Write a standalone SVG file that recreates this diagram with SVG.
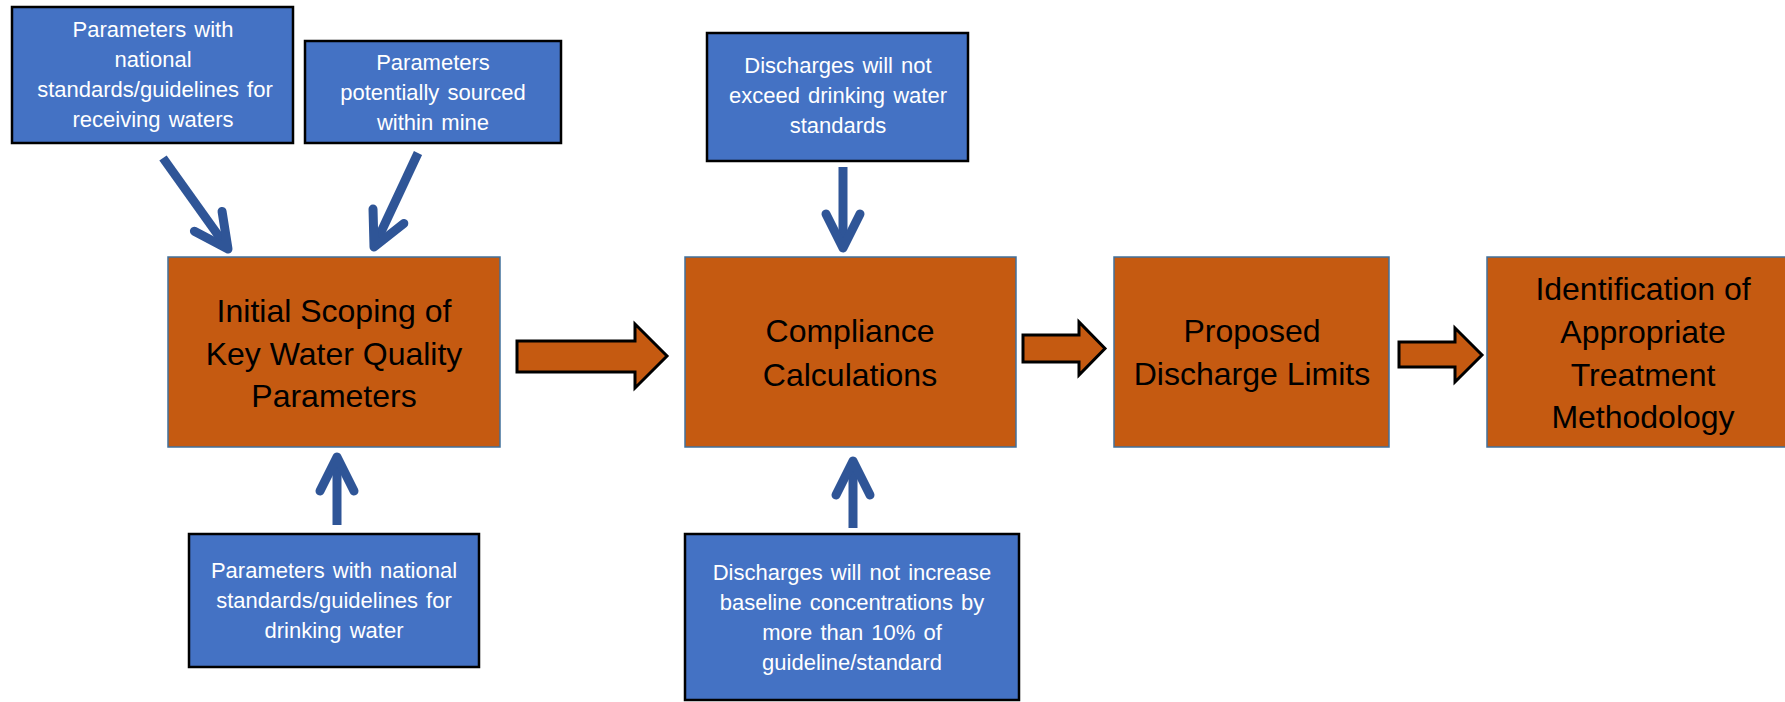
<svg xmlns="http://www.w3.org/2000/svg" width="1785" height="702" viewBox="0 0 1785 702">
<style>
.blue{fill:#4472C4;stroke:#000;stroke-width:2.5}
.orange{fill:#C55A11;stroke:#41719C;stroke-width:1.5}
.bt{font-family:"Liberation Sans",Arial,sans-serif;font-size:22px;fill:#fff;text-anchor:middle;word-spacing:2px}
.ot{font-family:"Liberation Sans",Arial,sans-serif;font-size:32px;fill:#000;text-anchor:middle}
.ln{stroke:#2F5597;stroke-width:9;fill:none;stroke-linecap:butt}
.blk{fill:#C55A11;stroke:#000;stroke-width:3;stroke-linejoin:miter}
</style>
<defs>
<marker id="chev" markerUnits="userSpaceOnUse" viewBox="-45 -30 60 60" markerWidth="60" markerHeight="60" refX="0" refY="0" orient="auto" overflow="visible">
<path d="M-34,-17 L0,0 L-34,17" fill="none" stroke="#2F5597" stroke-width="9" stroke-linecap="round" stroke-linejoin="round"/>
</marker>
</defs>
<rect width="1785" height="702" fill="#fff"/>

<g id="n-receiving">
<rect class="blue" x="12" y="7" width="281" height="136"/>
<text class="bt" x="153"><tspan x="153" y="37">Parameters with</tspan><tspan x="153" y="67">national</tspan><tspan x="155" y="97">standards/guidelines for</tspan><tspan x="153" y="127">receiving waters</tspan></text>
</g>
<g id="n-mine">
<rect class="blue" x="305" y="41" width="256" height="102"/>
<text class="bt"><tspan x="433" y="70">Parameters</tspan><tspan x="433" y="100">potentially sourced</tspan><tspan x="433" y="130">within mine</tspan></text>
</g>
<g id="n-drinkstd">
<rect class="blue" x="189" y="534" width="290" height="133"/>
<text class="bt"><tspan x="334" y="578">Parameters with national</tspan><tspan x="334" y="608">standards/guidelines for</tspan><tspan x="334" y="638">drinking water</tspan></text>
</g>
<g id="n-exceed">
<rect class="blue" x="707" y="33" width="261" height="128"/>
<text class="bt"><tspan x="838" y="73">Discharges will not</tspan><tspan x="838" y="103">exceed drinking water</tspan><tspan x="838" y="133">standards</tspan></text>
</g>
<g id="n-baseline">
<rect class="blue" x="685" y="534" width="334" height="166"/>
<text class="bt"><tspan x="852" y="580">Discharges will not increase</tspan><tspan x="852" y="610">baseline concentrations by</tspan><tspan x="852" y="640">more than 10% of</tspan><tspan x="852" y="670">guideline/standard</tspan></text>
</g>

<g id="n-scoping">
<rect class="orange" x="168" y="257" width="332" height="190"/>
<text class="ot"><tspan x="334" y="322">Initial Scoping of</tspan><tspan x="334" y="365">Key Water Quality</tspan><tspan x="334" y="407">Parameters</tspan></text>
</g>
<g id="n-compliance">
<rect class="orange" x="685" y="257" width="331" height="190"/>
<text class="ot"><tspan x="850" y="342">Compliance</tspan><tspan x="850" y="386">Calculations</tspan></text>
</g>
<g id="n-limits">
<rect class="orange" x="1114" y="257" width="275" height="190"/>
<text class="ot"><tspan x="1252" y="342">Proposed</tspan><tspan x="1252" y="385">Discharge Limits</tspan></text>
</g>
<g id="n-treatment">
<rect class="orange" x="1487" y="257" width="312" height="190"/>
<text class="ot"><tspan x="1643" y="300">Identification of</tspan><tspan x="1643" y="343">Appropriate</tspan><tspan x="1643" y="386">Treatment</tspan><tspan x="1643" y="428">Methodology</tspan></text>
</g>

<g id="connectors">
<line class="ln" x1="163" y1="158" x2="228" y2="249" marker-end="url(#chev)"/>
<line class="ln" x1="418" y1="153" x2="374" y2="247" marker-end="url(#chev)"/>
<line class="ln" x1="337" y1="525" x2="337" y2="457" marker-end="url(#chev)"/>
<line class="ln" x1="843" y1="167" x2="843" y2="248" marker-end="url(#chev)"/>
<line class="ln" x1="853" y1="528" x2="853" y2="461" marker-end="url(#chev)"/>
<polygon class="blk" points="517,341 635,341 635,324 667,356 635,388 635,372 517,372"/>
<polygon class="blk" points="1023,335 1079,335 1079,322 1105,348.5 1079,375 1079,362 1023,362"/>
<polygon class="blk" points="1399,342 1455,342 1455,328 1482,355 1455,382 1455,367 1399,367"/>
</g>
</svg>
